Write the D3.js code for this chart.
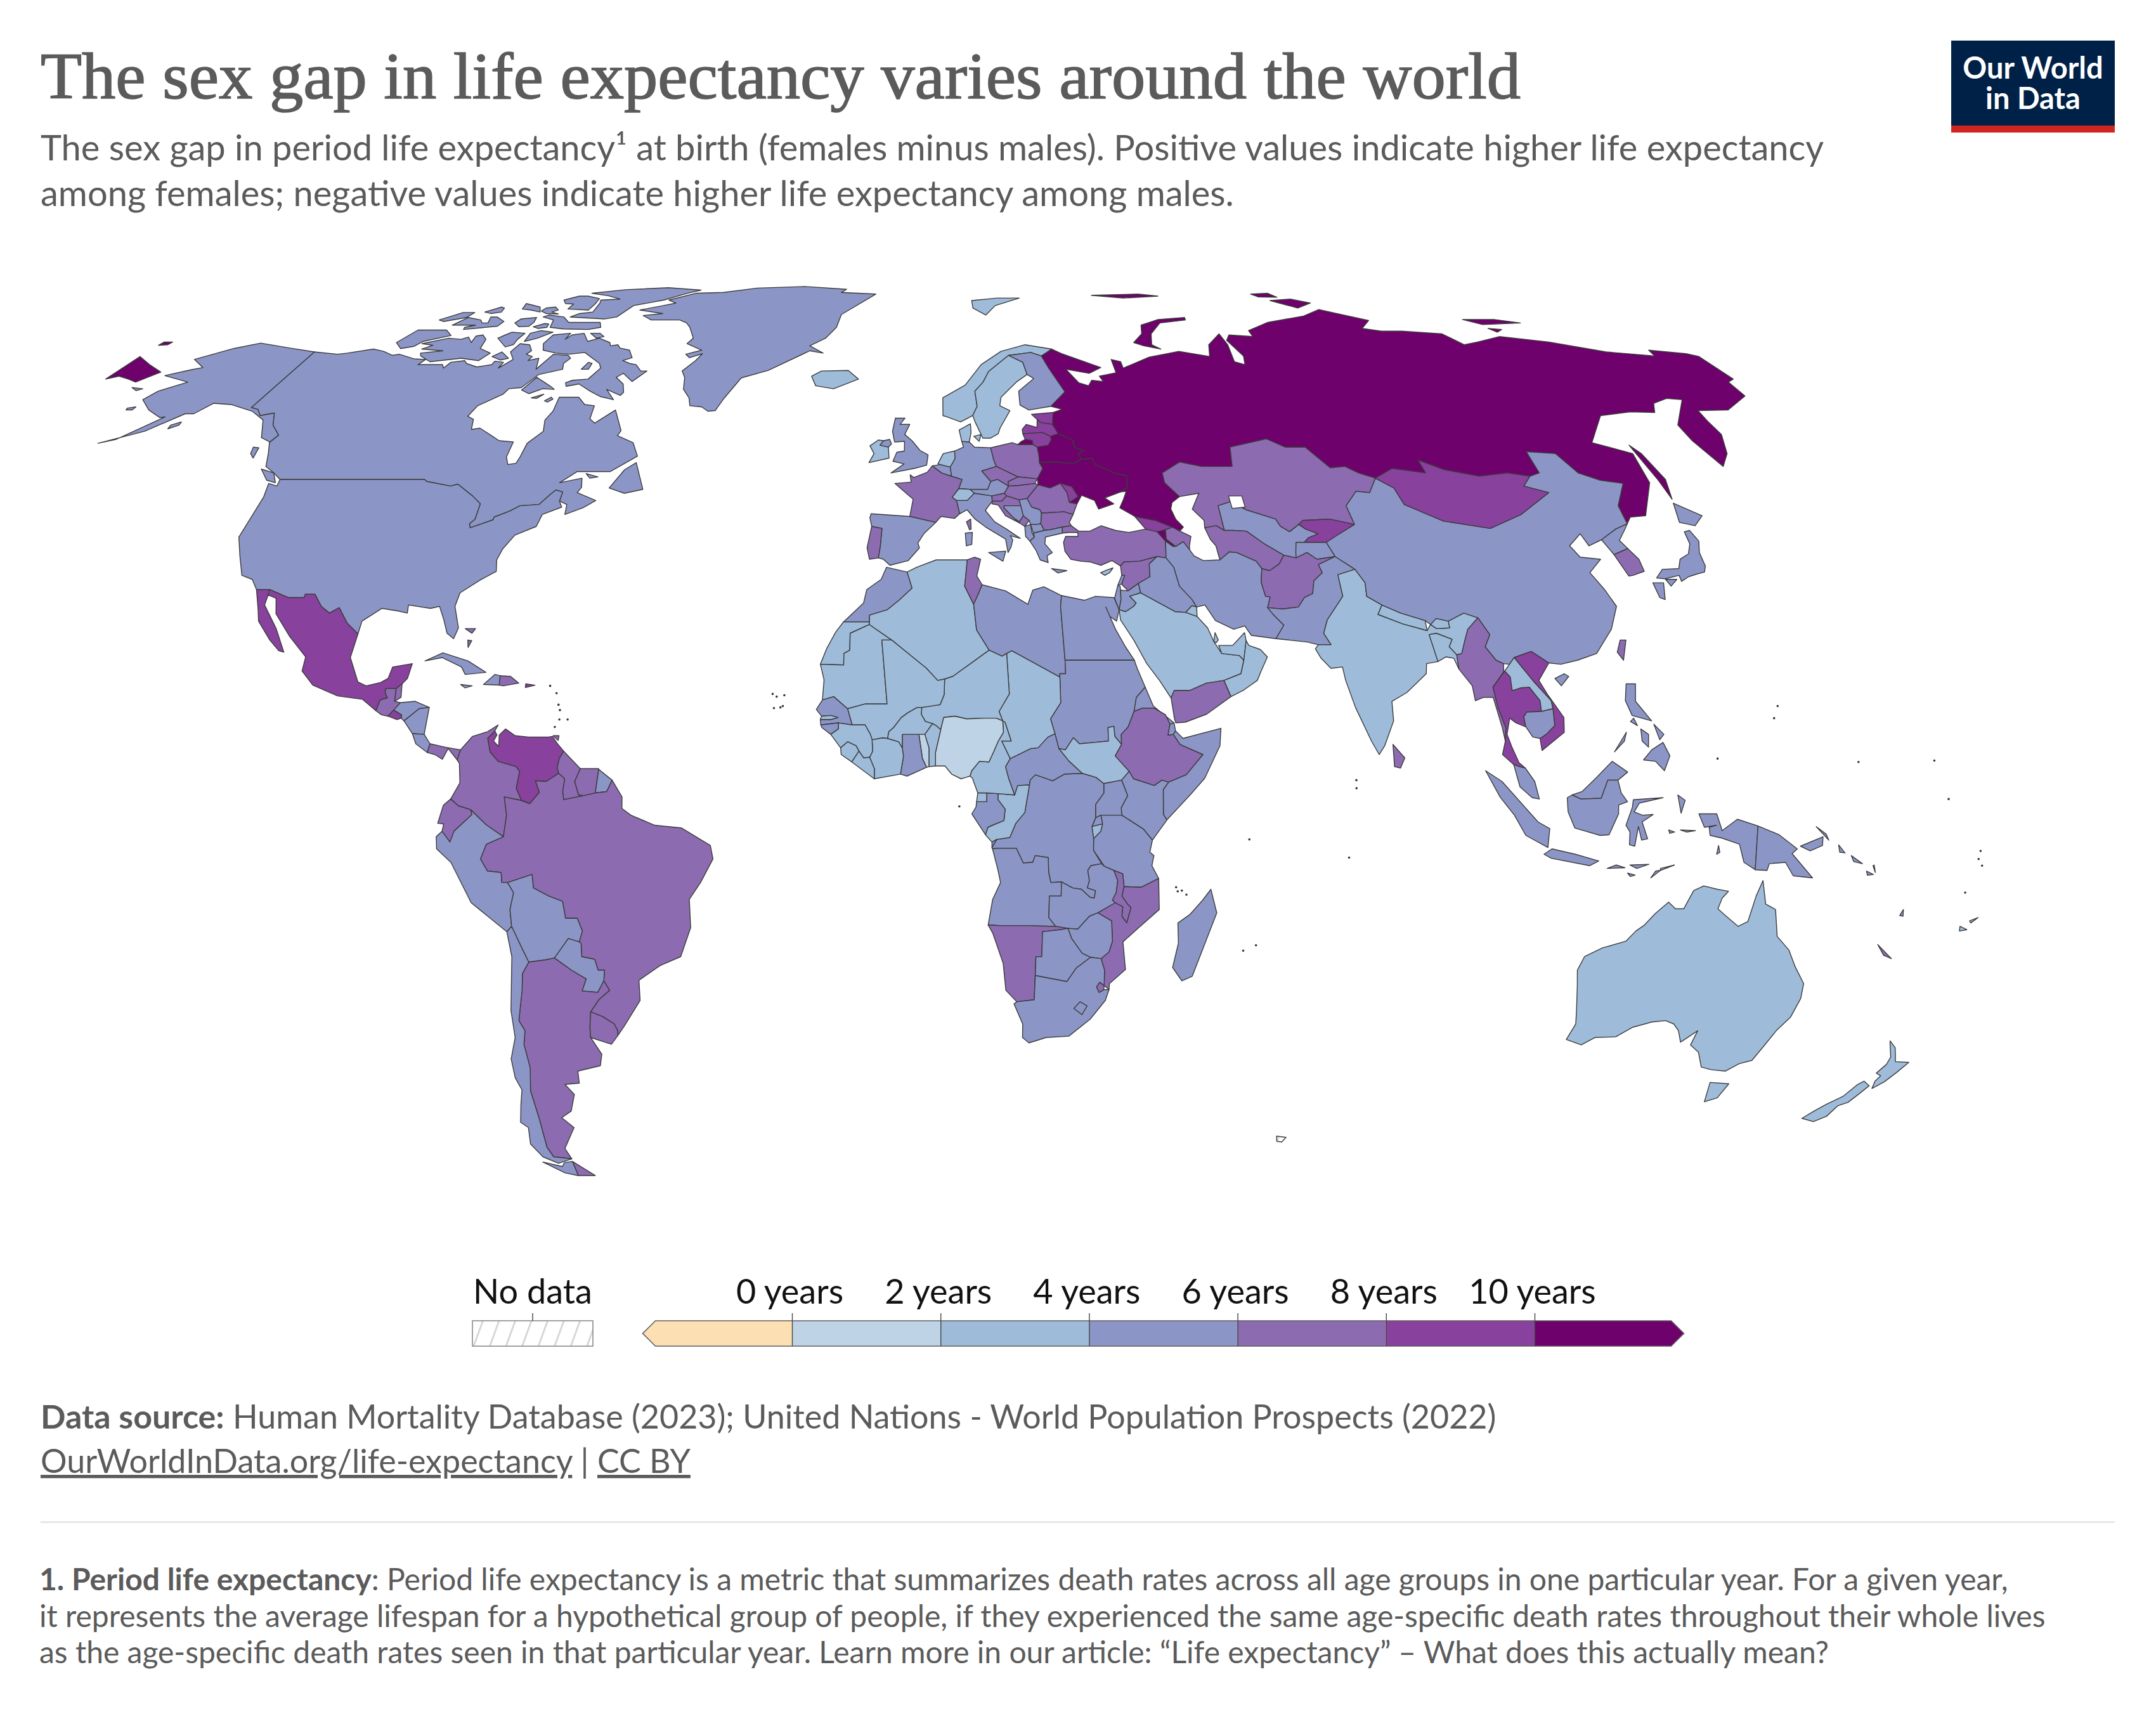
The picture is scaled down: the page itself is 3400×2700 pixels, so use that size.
<!DOCTYPE html>
<html>
<head>
<meta charset="utf-8">
<script src="https://cdn.jsdelivr.net/npm/d3@7"></script>
<style>
  html, body { margin: 0; background: #fff; }
  text { font-family: Lato, sans-serif; }
</style>
</head>
<body>
<div id="chart"></div>
<script>
// Sex gap in years, females minus males
const countries = ['Russia','Belarus','Ukraine','Armenia','Mexico','Venezuela','Lithuania','Latvia','Estonia','Mongolia','Kyrgyzstan','Thailand','Vietnam','El Salvador','Georgia','Puerto Rico','Moldova',
  'Kazakhstan','France','Portugal','Poland','Czechia','Slovakia','Hungary','Romania','Bulgaria','Croatia','Slovenia','Montenegro','Turkey','Azerbaijan','Syria','Turkmenistan','Afghanistan','Yemen','Tunisia','Ethiopia','Malawi','Mozambique','Namibia','Eswatini','Myanmar','South Korea','Taiwan','Sri Lanka','New Caledonia','Guatemala','Belize','Panama','Dominican Republic','Bahamas','Trinidad','Colombia','Ecuador','Argentina','Uruguay','Brazil','Guyana','Suriname',
  'Canada','United States','Greenland','Finland','United Kingdom','Belgium','Germany','Austria','Italy','Spain','Bosnia','Serbia','Albania','North Macedonia','Greece','Uzbekistan','Tajikistan','Pakistan','Iran','Iraq','Jordan','Lebanon','Israel','Egypt','Libya','Morocco','Ghana','Central African Republic','Sudan','Eritrea','Somalia','Djibouti','Kenya','Uganda','Tanzania','Rwanda','DR Congo','Gabon','Angola','Zambia','Zimbabwe','Botswana','South Africa','Lesotho','Madagascar','Senegal','Guinea-Bissau','China','Cambodia','Malaysia','Indonesia','Philippines','Japan','North Korea','Papua New Guinea','Solomon Islands','Vanuatu','Honduras','Nicaragua','Costa Rica','Cuba','Haiti','Jamaica','French Guiana','Peru','Bolivia','Chile','Paraguay',
  'Iceland','Norway','Sweden','Denmark','Ireland','Netherlands','Switzerland','Cyprus','Saudi Arabia','Oman','UAE','Qatar','Kuwait','Algeria','Western Sahara','Mauritania','Mali','Niger','Chad','Burkina Faso','Guinea','Sierra Leone','Liberia','Ivory Coast','Benin','Cameroon','South Sudan','Burundi','Congo','Equatorial Guinea','Gambia','India','Nepal','Bhutan','Bangladesh','Laos','Timor-Leste','Australia','New Zealand','Fiji',
  'Nigeria','Togo','Kerguelen'];
const gapYears = [10.7,10.2,10.4,10.1,8.4,8.9,9.2,9.5,8.6,9.1,8.3,8.2,9.2,9.4,8.8,8.1,8.2,
  7.8,6.1,6.2,7.9,6.2,7.0,7.1,7.2,6.9,6.3,6.0,6.2,6.1,6.4,7.5,7.1,6.3,6.4,6.2,6.5,6.7,6.8,7.6,6.4,7.0,6.1,6.4,7.6,6.3,6.9,6.1,6.2,6.6,7.5,7.1,7.2,6.2,6.5,6.9,6.9,6.4,6.1,
  4.5,5.8,4.6,5.3,4.1,4.3,5.1,4.9,4.4,5.4,5.1,5.5,4.6,4.4,5.2,4.6,4.8,4.4,4.5,5.5,4.6,5.0,4.0,5.1,5.9,4.9,4.4,4.8,5.3,5.6,5.1,5.4,4.7,4.9,4.6,4.9,5.2,5.2,5.3,5.7,4.8,5.0,5.9,5.5,4.2,4.3,5.3,5.2,5.2,5.0,4.5,5.4,5.8,5.5,4.9,4.2,4.3,5.1,4.8,4.3,4.8,5.0,4.9,5.7,5.3,4.5,4.2,4.9,
  3.4,3.3,3.4,3.6,3.5,3.1,3.8,3.7,3.3,3.9,2.2,3.0,3.6,3.2,2.9,2.8,2.6,3.3,3.1,3.4,3.4,3.7,3.6,3.3,3.0,3.8,3.9,2.9,3.1,2.7,3.1,3.5,3.5,3.3,3.9,3.5,3.8,3.6,3.5,3.2,
  1.5,1.9,null];

// Outer two edges only set how far the open-ended bins reach
const legendBins = [-1.84,0,2,4,6,8,10,11.84];
const legendTicks = [0,2,4,6,8,10];
const legendColors = ['#fddfb4','#bfd3e6','#9ebcda','#8c96c6','#8c6bb1','#88419d','#6e016b'];

// Robinson table, latitude steps and the two lookup columns
const latSteps = d3.range(0,95,5);
const lengthCol = [1,.9986,.9954,.99,.9822,.973,.96,.9427,.9216,.8962,.8679,.835,.7986,.7597,.7186,.6732,.6213,.5722,.5322];
const depthCol = [0,.062,.124,.186,.248,.31,.372,.434,.4958,.5571,.6176,.6769,.7346,.7903,.8435,.8936,.9394,.9761,1];

// Outlines: name, then one 'lon,lat lon,lat ...' string per ring
const outlines = [
['Canada',
 '-141,69.7 -135,69.3 -133,69.5 -128,70.2 -125,69.8 -122,69.1 -120.7,69.3 -116.2,68.5 -113.4,68.4 -114,67.5 -108.4,67.5 -107.5,66.9 -107,67.9 -104.2,68.2 -103.2,67.7 -100.2,67.1 -97.2,67.5 -97.2,68.1 -95,67.9 -95.1,66.9 -93.3,68.4 -95.3,69.7 -94.8,71.2 -92.3,71 -90.6,69.9 -91.2,69.3 -89.4,68.9 -89.7,68.2 -87.6,68.6 -86.4,66.7 -84.9,69.3 -81.3,69.1 -80.3,68.6 -81.1,67.7 -80.4,66.7 -84.9,65.8 -86.8,63.6 -89.4,63.4 -89.8,62.5 -93.5,60.6 -94.1,58.9 -92.5,58.4 -91.6,56.8 -90,57 -86.7,55.8 -84.6,55 -81.6,54.8 -81.5,52.5 -80.5,51.3 -79,51.5 -78.8,52.5 -78.7,54.6 -76.7,56.5 -77.6,58.3 -76.9,59.7 -77.3,62 -73.1,62 -71,60.8 -68.8,60.6 -68.4,58.5 -67,57.8 -63.9,59.9 -60.9,56.6 -61.2,55.8 -57.5,54.7 -55.7,52.6 -60,50.2 -66.4,50.2 -69,48.5 -65,49.2 -64.5,47.8 -65,47 -61,45.8 -63,44.7 -66,43.7 -66.2,45.2 -67.8,45.7 -67.8,47.1 -69.2,47.4 -70,46.7 -71.4,45.2 -74.9,45 -76.5,44.2 -79,43.3 -79,42.9 -82.7,41.7 -83.1,42.3 -82.4,43 -82.5,45.3 -84.6,46.5 -88.4,48.3 -89.6,48 -94.6,48.7 -95.2,49 -123,49 -125,50 -127.5,51 -129,53 -130.5,54.7 -130,55.9 -133,57.5 -135,59.4 -137.5,59 -139.2,60 -141,60.3',
 '-89.3,71.2 -88.8,72.8 -84.9,73.1 -85,72 -84.2,72.8 -81.6,73.1 -79.2,71.6 -77,72.2 -73.7,71.4 -73,70.8 -71.4,71 -70.4,70.4 -67.8,70 -66.2,68.7 -68,68.2 -66,67.7 -64.4,67.5 -62.6,66.4 -61.2,66.4 -63.3,64.6 -66.2,66 -67.3,65.3 -65,64.2 -64,62.8 -64.4,62.3 -68,63.3 -65.4,61.6 -68.5,62.1 -71.4,63 -74.7,64.2 -77.2,63.8 -77.8,64.4 -76.6,64.8 -73.3,65 -72,66.9 -72.9,67.7 -77.9,69.6 -81.2,69.3 -84.5,69.5 -88,70',
 '-118.1,71.2 -113.2,72.2 -110,72 -108.7,72.4 -106.7,71.4 -107.2,72.6 -105.8,72.8 -104,72 -103.1,70.3 -99.8,69.5 -101,68.2 -105.5,68.6 -111.9,68 -115.3,69 -116,69.5 -111.3,69.9 -116.7,70.2 -115.1,70.9',
 '-124.5,71.4 -123,73.7 -116,73.7 -113.4,72.7 -118.5,71.6 -119.3,70.7 -121.8,70.3',
 '-90.3,81.2 -82.2,82.1 -70.8,82.6 -61,82 -64,81.2 -68.7,79.6 -75.4,78.5 -77,76.2 -79.6,75.8 -88.8,76.2 -87.4,76.9 -84.4,77.2 -85,79 -85.6,79.6 -80.7,79.8 -85,80.6',
 '-95.5,79.6 -92.7,80.5 -90.3,80.5 -86.4,79.9 -86,78.8 -86.1,77.6 -91.7,77.8 -91.7,78.8 -94,78.9',
 '-95.7,76.2 -94.8,76.6 -90.4,76.2 -87.7,75.1 -79.8,75.1 -78.7,74.2 -81.4,73.8 -87.6,73.9 -91.2,74.2 -92.2,75.6',
 '-97.7,78 -95.5,78.2 -93.9,77.6 -95,77.2 -92.7,76.8 -96,76.9 -98,77.4',
 '-104.4,78.9 -99.6,78.2 -98,77.2 -101,77.6 -103.6,77.8',
 '-112.3,77.2 -109.7,78.2 -108.6,78 -108,77.2 -110.2,76.9',
 '-121,75.6 -117.7,77.1 -114.7,77.1 -115,76.1 -119.3,75.3',
 '-116,74.6 -114.5,76.1 -110.5,75.6 -109.2,75 -107.7,75 -109,76.2 -107.4,76.2 -104.2,75.3 -104.5,74.4 -112,73.8 -112.3,74.2 -110.2,74.6',
 '-101,75 -100.7,75.8 -97.2,76.1 -96.4,75.1 -96.7,74.4 -99,74.3',
 '-95.5,74.3 -93.4,74.9 -92.3,74.8 -92,74.2 -94,74',
 '-101.4,72.2 -100.4,72.8 -99.4,73.3 -96,73.1 -96.4,72 -96.2,71 -97.6,70.6',
 '-94.7,73.1 -92.7,73.6 -89.4,73.3 -91.9,72.2 -94.3,71.6',
 '-98.7,68.9 -97.3,69.7 -94.6,68.6 -96.1,68.3',
 '-80,73.1 -77.7,73.1 -76.2,72.5 -77.7,72.2',
 '-86.4,63.2 -84.9,65.3 -82.3,64.4 -80.6,63.8 -79.4,63.3 -82,63.4 -84.3,62.6',
 '-83.2,61.9 -81,62.5 -82,61.8',
 '-80,61.4 -79,62 -78.4,61.7 -79.2,61.2',
 '-76.2,66.7 -75.6,67.9 -74.6,67.7 -74.6,66.7',
 '-55.5,51.6 -52.7,47.5 -56,46.9 -59.2,47.7 -57.3,50.5',
 '-128,50.6 -125,50 -123.5,48.5 -125.5,48.9',
 '-133,54 -131.8,53.9 -131.3,52.3 -132.5,53',
 '-64.5,49.9 -62,49.4 -63.5,49.2'],
['United States',
 '-123,49 -95.2,49 -94.6,48.7 -89.6,48 -88.4,48.3 -84.6,46.5 -82.5,45.3 -82.4,43 -83.1,42.3 -82.7,41.7 -79,42.9 -79,43.3 -76.5,44.2 -74.9,45 -71.4,45.2 -70,46.7 -69.2,47.4 -67.8,47.1 -67.8,45.7 -67,44.8 -70.2,43.7 -70.6,41.9 -74,40.6 -75.5,38.5 -76,36.9 -75.5,35.2 -78,33.9 -81,32 -81.3,30 -80,26.8 -80.5,25.2 -81.8,26 -82.8,28 -84,30 -85.5,29.7 -89.5,30.2 -89.4,29 -91,29.3 -94,29.7 -97,27.8 -97.2,25.9 -99.5,27.5 -101.5,29.8 -103,29 -104.7,30 -106.5,31.8 -108.2,31.8 -108.2,31.3 -111,31.3 -114.8,32.5 -117.1,32.5 -118.5,34 -120.6,34.6 -122.5,37.5 -124.3,40.3 -124,46.3 -124.7,48.4 -122.8,48',
 '-141,69.7 -148,70.4 -156.6,71.3 -161,70.3 -166.5,68.4 -162,67 -164,66.6 -168,65.6 -161,64.5 -165,63 -166,61.6 -162,59.9 -158,58.7 -157,58.8 -162,55.2 -164.8,54.6 -158,56.5 -153.5,59.3 -151.7,59.3 -150,61 -146,60.8 -140,59.7 -136,58.3 -133,55.5 -130.5,54.8 -130,55.9 -133,57.5 -135,59.4 -137.5,59 -139.2,60 -141,60.3',
 '-154,57.5 -152.5,58 -152.3,57.5 -153.8,56.9',
 '-167,60.2 -165.5,60.4 -165.5,59.9 -166.8,59.9',
 '-171.7,63.6 -169,63.4 -170,63.1'],
['Greenland','-72.7,77.6 -67.5,78.5 -64.8,79 -67.3,79.6 -61.7,81.2 -54.3,81.4 -45.7,82.5 -32.5,82.9 -20.4,82.2 -21.6,81.4 -12,81 -20,76.7 -20.5,74.2 -22.6,72.2 -25.9,70.8 -22.4,69.5 -25.6,69.9 -34,66.5 -39.5,65.2 -42,61.6 -42.9,59.8 -44.4,59.7 -46,60.4 -48.6,60.6 -49.4,61.9 -51.3,63.3 -52.1,65.3 -53.3,66.4 -51.3,68.2 -50.4,69.4 -53,68.7 -54.2,69.3 -50.9,70 -55.2,71.2 -54.4,72.2 -56.7,74.2 -58.1,75 -60.4,75.6 -67.6,75.6 -70.6,76.5 -66,76.9'],
['Mexico',
 '-114.8,32.5 -111,31.3 -108.2,31.3 -108.2,31.8 -106.5,31.8 -104.7,30 -103,29 -101.5,29.8 -99.5,27.5 -97.2,25.9 -97.8,22.4 -95.9,18.8 -94.4,18.2 -92,18.7 -90.8,19.3 -90.3,21 -87,21.5 -87.5,19.3 -88.3,18.5 -89.2,17.8 -91,17.8 -91,17.2 -90.5,16.4 -91.7,16.1 -92.2,14.5 -94.7,16.2 -99,16.7 -103.5,18.3 -105.7,20.4 -105.5,22.5 -109,25.6 -112.3,28.9 -113.1,31.2 -114.7,31.7',
 '-117.1,32.5 -114.8,32.5 -114.7,31.7 -114.7,30.2 -111.6,26.7 -109.4,23.2 -110.3,23.4 -112.2,25 -115,27.8 -115.6,29.5'],
['Guatemala','-92.2,14.5 -91.7,16.1 -90.5,16.4 -91,17.2 -91,17.8 -89.2,17.8 -89.2,15.9 -88.2,15.7 -89.2,14.6 -90.1,13.7 -91.2,13.9'],
['Belize','-89.2,17.8 -88.3,18.5 -88.2,16.5 -89.2,15.9'],
['Honduras','-89.2,14.6 -88.2,15.7 -85.7,15.9 -83.2,15 -84.9,14.8 -87.3,13 -87.8,13.4 -87.8,13.9'],
['El Salvador','-90.1,13.7 -89.2,14.6 -87.8,13.9 -87.8,13.4 -88.5,13.2'],
['Nicaragua','-87.3,13 -84.9,14.8 -83.2,15 -83.7,11 -85.7,11.1'],
['Costa Rica','-85.7,11.1 -83.7,11 -82.6,9.6 -83,8.3 -85,9.6'],
['Panama','-83,8.3 -82.6,9.6 -80,9.1 -77.4,8.7 -77.9,7.2 -79.5,8.9 -80.4,7.3 -81.7,8'],
['Cuba','-84.9,21.9 -82,23.1 -77.5,21.9 -74.2,20.2 -77.7,19.9 -78.5,21 -82,22.4'],
['Haiti','-74.4,18.4 -72.6,19.9 -71.7,19.7 -71.7,18.3'],
['Dominican Republic','-71.7,19.7 -69.9,19.6 -68.4,18.6 -71,18.2 -71.7,18.3'],
['Jamaica','-78.3,18.4 -76.3,18.2 -77.5,17.9'],
['Puerto Rico','-67.2,18.5 -65.6,18.3 -67.2,17.95'],
['Bahamas','-78.8,26.7 -77,26.7 -77.5,26','-78,25 -77.3,24.9 -77.8,23.9'],
['Trinidad','-61.9,10.8 -60.9,10.8 -61,10.1'],
['Colombia','-77.4,8.7 -75.5,10.7 -73,11.4 -71.3,12.4 -71.8,11.5 -72.9,10.4 -72.4,8.4 -71,7 -67.9,6.2 -67.3,5.5 -67.8,3 -66.9,1.2 -67,1.2 -69.8,1.7 -69.4,-1 -70,-4.2 -72.9,-2.4 -75.4,-0.2 -77.5,0.4 -78.8,1.4 -77.3,3.8 -77.5,6.7 -77.9,7.2'],
['Venezuela','-71.8,11.5 -71.4,10.9 -71.9,10 -71,9.2 -71,10.9 -70,11.8 -68.3,10.8 -66,10.6 -62.7,10.6 -62,10.7 -61,9.5 -60,8.5 -60.7,7.4 -61,6 -60.7,5.2 -62.8,4 -64.6,4.1 -63.9,2.4 -65.5,0.7 -66.9,1.2 -67.8,3 -67.3,5.5 -67.9,6.2 -71,7 -72.4,8.4 -72.9,10.4'],
['Guyana','-60,8.5 -57.1,5.9 -58,4 -57.3,2 -56.5,1.9 -59.8,1.3 -60,2.5 -59.7,4.4 -60.7,5.2 -61,6 -60.7,7.4'],
['Suriname','-57.1,5.9 -54,5.9 -54.5,2.3 -56.5,1.9 -57.3,2 -58,4'],
['French Guiana','-54,5.8 -51.7,4.2 -52.6,2.5 -54.5,2.3'],
['Brazil','-51.7,4.2 -50,1.7 -50,0 -48.5,-1 -44.5,-2.5 -40,-2.9 -35.2,-5.5 -34.8,-7.5 -37,-11 -39,-13.5 -39,-17.7 -41,-22 -44.6,-23.3 -48.5,-25.5 -48.7,-28.5 -52,-32.2 -53.5,-33.7 -53.4,-33 -53.8,-32 -55.6,-30.9 -57.6,-30.2 -55.9,-28.4 -53.8,-27 -54.6,-25.6 -54.3,-24 -55.4,-24 -55.8,-22.4 -58,-22 -57.9,-20 -58.2,-19.8 -57.5,-18.2 -58.2,-16.3 -60.2,-16.3 -60.5,-13.8 -62.8,-13 -65.3,-11.8 -65.4,-9.8 -69.6,-11 -70.6,-11 -70.6,-9.5 -72.9,-9.3 -74,-7.5 -72.9,-5.3 -70,-4.2 -69.4,-1 -69.8,1.7 -67,1.2 -65.5,0.7 -63.9,2.4 -64.6,4.1 -62.8,4 -60.7,5.2 -59.7,4.4 -60,2.5 -59.8,1.3 -56.5,1.9 -54.5,2.3 -52.6,2.5'],
['Ecuador','-78.8,1.4 -77.5,0.4 -75.4,-0.2 -75.2,-0.9 -78.3,-3.4 -79,-5 -80.3,-3.4 -80,-2.3 -81,-2.2 -80,0.5'],
['Peru','-80.3,-3.4 -79,-5 -78.3,-3.4 -75.2,-0.9 -75.4,-0.2 -72.9,-2.4 -70,-4.2 -72.9,-5.3 -74,-7.5 -72.9,-9.3 -70.6,-9.5 -70.6,-11 -69.6,-11 -68.7,-12.5 -69.5,-15 -69.5,-17.5 -70.4,-18.3 -76,-14 -79,-8 -81.3,-6 -81.3,-4.2'],
['Bolivia','-69.6,-11 -65.4,-9.8 -65.3,-11.8 -62.8,-13 -60.5,-13.8 -60.2,-16.3 -58.2,-16.3 -57.5,-18.2 -58.2,-19.8 -60,-19.3 -62.7,-22.2 -64.4,-22.5 -67.2,-22.8 -68,-21 -69.5,-17.5 -69.5,-15 -68.7,-12.5'],
['Paraguay','-58.2,-19.8 -57.9,-20 -58,-22 -55.8,-22.4 -55.4,-24 -54.3,-24 -54.6,-25.6 -55.9,-27.3 -58.6,-27.1 -57.6,-25.3 -60,-24 -62.7,-22.2 -60,-19.3'],
['Argentina','-67.2,-22.8 -64.4,-22.5 -62.7,-22.2 -60,-24 -57.6,-25.3 -58.6,-27.1 -55.9,-27.3 -54.6,-25.6 -53.8,-27 -55.9,-28.4 -57.6,-30.2 -58.2,-32.5 -58.4,-34 -57,-36.5 -57.7,-38.2 -62,-39 -62.3,-40.8 -65,-41 -63.8,-42.5 -65.3,-45 -67.5,-46 -65.8,-47.5 -69,-50.7 -68.5,-52.3 -71.9,-52 -72.4,-50.5 -71.8,-46 -71.7,-42 -70.5,-38.5 -70.5,-35 -69.8,-33 -70.5,-31.5 -69,-27 -68.5,-24.5',
 '-68.6,-52.7 -65.2,-54.9 -68.6,-54.9'],
['Chile','-69.5,-17.5 -70.4,-18.3 -70,-22 -71.5,-30 -71.8,-34 -73.5,-37.2 -73.7,-40 -73.2,-41.8 -74.3,-44 -75.6,-46.7 -74.5,-47.5 -75.3,-50 -74,-52 -71.5,-53 -68.5,-52.3 -71.9,-52 -72.4,-50.5 -71.8,-46 -71.7,-42 -70.5,-38.5 -70.5,-35 -69.8,-33 -70.5,-31.5 -69,-27 -68.5,-24.5 -67.2,-22.8 -68,-21',
 '-68.6,-52.7 -68.6,-54.9 -71,-54.5 -74.5,-52.8 -71,-53.5 -70.3,-52.9'],
['Uruguay','-57.6,-30.2 -55.6,-30.9 -53.8,-32 -53.4,-33 -53.5,-33.7 -54.9,-35 -58.4,-34 -58.2,-32.5'],
['Morocco','-5.9,35.8 -2.2,35.1 -1.3,32.7 -3.6,30.9 -5.6,29.5 -8.7,28.7 -8.7,27.7 -13.2,27.7 -9.8,30.5 -9.3,32.5 -6.8,34'],
['Western Sahara','-13.2,27.7 -8.7,27.7 -8.7,27.3 -12,26 -12,23.5 -13,23 -13,21.3 -17,21.4 -16,23.7 -14.5,26.2'],
['Mauritania','-17,21.4 -13,21.3 -13,23 -12,23.5 -12,26 -8.7,27.3 -4.8,25 -6.5,25 -5.5,15.5 -9.3,15.5 -12.2,14.8 -14.6,16.6 -16.5,16.1 -16.3,19.1'],
['Algeria','-2.2,35.1 -1.3,32.7 -3.6,30.9 -5.6,29.5 -8.7,28.7 -8.7,27.3 -4.8,25 1.2,20.8 3.1,19 4.3,19.2 5.7,19.6 12,23.5 9.9,26.5 9.5,30.3 8,33 8.6,36.9 3,36.9 -0.5,35.8'],
['Tunisia','8.6,36.9 9.9,37.3 11,37 10.2,34.5 11.1,33.2 10.3,31.7 9.5,30.3 8,33'],
['Libya','9.5,30.3 10.3,31.7 11.1,33.2 15.2,32.3 19,30.3 20,32.4 22,32.9 25,31.6 24.7,30 25,22 25,20 24,20 24,19.5 15.9,23.4 15,23 14.2,22.6 12,23.5 9.9,26.5'],
['Egypt','25,31.6 29,30.9 31,31.5 34.2,31.3 34.9,29.5 34.3,27.8 33.2,28.5 32.6,29.9 34,26.6 35.5,24 36.9,22 25,22 24.7,30'],
['Sudan','25,22 36.9,22 37.3,20.8 38.5,18 36.9,16.5 36.4,14.4 35.3,12.1 34.1,11 34.1,9.5 33,10.7 32.9,12.2 31.9,12 31.9,10 29.5,9.8 27,9.6 26,10.5 24.6,8.7 23.5,8.9 22.9,11.1 22.2,13.3 24,15.7 24,19.5 24,20 25,20'],
['South Sudan','24.6,8.7 26,10.5 27,9.6 29.5,9.8 31.9,10 31.9,12 32.9,12.2 33,10.7 34.1,9.5 33,7.8 35.3,5.5 34,4.2 31,3.7 29.7,4.6 27.4,5.2 25.2,7 23.5,8.9'],
['Eritrea','36.4,14.4 36.9,16.5 38.5,18 39.7,15.2 43.1,12.7 42.4,12.5 41.7,13.9 39.8,14.9 37.9,14.9'],
['Ethiopia','36.4,14.4 37.9,14.9 39.8,14.9 41.7,13.9 42.4,12.5 42,10.9 42.9,11 44,9.5 47.8,8 44.9,5 41.9,3.9 40.8,4.2 39.5,3.4 36,4.4 35.3,5.5 33,7.8 34.1,9.5 34.1,11 35.3,12.1'],
['Djibouti','42.4,12.5 43.1,12.7 43.3,11.5 42.9,11 42,10.9'],
['Somalia','42.9,11 43.3,11.5 44.5,10.4 51,11.9 50.7,9.3 48,4.5 45.6,2.1 41.6,-1.7 41,-0.9 41,2.8 41.9,3.9 44.9,5 47.8,8 44,9.5'],
['Kenya','35.3,5.5 36,4.4 39.5,3.4 40.8,4.2 41.9,3.9 41,2.8 41,-0.9 41.6,-1.7 39.2,-4.7 37.7,-3.1 34,-1 33.9,0.1 34.5,1.1 35,1.9 34,4.2'],
['Uganda','34,4.2 35,1.9 34.5,1.1 33.9,0.1 34,-1 30.5,-1 29.6,-1.4 29.6,0.6 31,2.3 31,3.7'],
['Rwanda','30.5,-1 30.8,-2.3 29,-2.7 29.6,-1.4'],
['Burundi','30.8,-2.3 30.5,-3.4 29.3,-4.5 29,-2.7'],
['Tanzania','34,-1 37.7,-3.1 39.2,-4.7 38.8,-6.5 39.5,-7 39.2,-8.5 40.4,-10.4 37.5,-11.7 34.6,-11.6 34.3,-9.7 32.8,-9.2 31.2,-8.6 29.3,-6.2 29.3,-4.5 30.5,-3.4 30.8,-2.3 30.5,-1'],
['DR Congo','31,3.7 31,2.3 29.6,0.6 29.6,-1.4 29,-2.7 29.3,-4.5 29.3,-6.2 30.7,-8.2 28.9,-8.5 28.4,-9.2 28.7,-10.7 28.4,-11.8 29.8,-12.2 29.6,-13.3 28.9,-13.2 27.4,-12 25.9,-11.8 24,-10.9 22.2,-11 21.8,-9.5 21.7,-7.3 19.5,-7 19.1,-8 17.5,-8.1 16.3,-5.9 13,-5.9 12.3,-6 12.2,-5.8 13,-4.6 15.2,-4.3 16.2,-2.2 17.7,-0.6 18.5,3.5 18.6,4.2 19.5,5 22.4,4.1 24.4,5.1 27.4,5.2 29.7,4.6'],
['Congo','11.1,-3.9 12.2,-5 13,-4.6 15.2,-4.3 16.2,-2.2 17.7,-0.6 18.5,3.5 16.5,3.4 16,2 13.2,2.2 13.2,1.3 14.4,-0.1 14.2,-1.8 12.5,-2.4 11.5,-2.8'],
['Gabon','9.6,1 11.3,1 11.3,2.3 13.2,2.2 13.2,1.3 14.4,-0.1 14.2,-1.8 12.5,-2.4 11.5,-2.8 11.1,-3.9 8.8,-0.8 9.5,0.2'],
['Equatorial Guinea','9.8,2.3 11.3,2.3 11.3,1 9.6,1'],
['Cameroon','8.5,4.8 8.9,4.5 9.8,2.3 11.3,2.3 13.2,2.2 16,2 15,4.5 14.5,6.2 15.3,7.4 13.9,10 15.5,10 14.5,12.8 14.1,13 14.2,11.3 13.3,10 12.5,8.4 11.7,6.9 10.1,7 8.8,5.6'],
['Central African Republic','14.5,6.2 15,4.5 16,2 16.5,3.4 18.5,3.5 18.6,4.2 19.5,5 22.4,4.1 24.4,5.1 27.4,5.2 25.2,7 23.5,8.9 22.9,11.1 21.7,10.6 20,9 18.8,8.9 15.3,7.4'],
['Chad','15.9,23.4 24,19.5 24,15.7 22.2,13.3 22.9,11.1 21.7,10.6 20,9 18.8,8.9 15.3,7.4 13.9,10 15.5,10 14.5,12.8 14.1,13 13.5,14.4 15.3,17 15,23'],
['Niger','5.7,19.6 12,23.5 14.2,22.6 15,23 15.3,17 13.5,14.4 14.1,13 13,13.4 11,13.4 8,13.3 6,13.7 4.1,13.5 3.6,11.7 2.8,12.3 2.2,12.6 1,12.9 0.3,14 0.4,15 3.5,15.4 4.2,16.9 4.3,19.2'],
['Nigeria','2.7,6.3 2.7,8.3 3.6,11.7 4.1,13.5 6,13.7 8,13.3 11,13.4 13,13.4 14.1,13 14.2,11.3 13.3,10 12.5,8.4 11.7,6.9 10.1,7 8.8,5.6 8.5,4.8 7,4.4 5.4,5.1 4.3,6.3'],
['Benin','1.6,6.2 1.6,9 0.9,11 2.2,12.6 2.8,12.3 3.6,11.7 2.7,8.3 2.7,6.3'],
['Togo','0.9,11 1.6,9 1.6,6.2 1.2,6.1 0.5,7.4 -0.1,11'],
['Ghana','-3.2,5.1 -2.1,4.8 1.2,6.1 0.5,7.4 -0.1,11 -2.9,11 -2.9,9 -2.7,7.7'],
['Ivory Coast','-7.6,4.4 -3.2,5.1 -2.7,7.7 -2.9,9 -3.5,9.9 -5.4,10.4 -6.2,10.5 -8,10.2 -7.9,8.5 -8.4,7.6 -7.6,5.9'],
['Burkina Faso','-5.4,10.4 -3.5,9.9 -2.9,9 -2.9,11 -0.1,11 0.9,11 2.2,12.6 1,12.9 0.3,14 0.4,15 -0.4,15 -2,14.2 -3.1,13.5 -4.4,12 -5.2,11.4'],
['Mali','-12.2,14.8 -9.3,15.5 -5.5,15.5 -6.5,25 -4.8,25 1.2,20.8 3.1,19 4.3,19.2 4.2,16.9 3.5,15.4 0.4,15 -0.4,15 -2,14.2 -3.1,13.5 -4.4,12 -5.2,11.4 -5.4,10.4 -6.2,10.5 -8,10.2 -8.3,11 -9.2,12.4 -11.4,12.4'],
['Senegal','-16.5,16.1 -14.6,16.6 -12.2,14.8 -11.4,12.4 -13.7,12.7 -16.7,12.4 -16.8,13.2 -15,13.2 -13.8,13.5 -15,13.8 -16.6,13.7 -17.5,14.7'],
['Gambia','-16.8,13.2 -15,13.2 -13.8,13.5 -15,13.8 -16.6,13.7'],
['Guinea-Bissau','-16.7,12.4 -13.7,12.7 -13.7,11.8 -15,11 -16.5,12'],
['Guinea','-13.7,12.7 -11.4,12.4 -9.2,12.4 -8.3,11 -8,10.2 -7.9,8.5 -8.4,7.6 -9.4,7.5 -10.2,8.5 -10.7,9.3 -12.1,9.9 -13.3,9 -15,11 -13.7,11.8'],
['Sierra Leone','-13.3,9 -12.1,9.9 -10.7,9.3 -10.2,8.5 -11.4,6.9 -13.2,8'],
['Liberia','-11.4,6.9 -10.2,8.5 -9.4,7.5 -8.4,7.6 -7.6,5.9 -7.6,4.4'],
['Angola','12.3,-6 13,-5.9 16.3,-5.9 17.5,-8.1 19.1,-8 19.5,-7 21.7,-7.3 21.8,-9.5 22.2,-11 24,-10.9 24,-13 22,-13 22,-16.2 23.2,-17.5 18.5,-17.4 14,-17.4 11.7,-17.3 12.4,-13.5 13.7,-11 13.2,-9','12.2,-5 13,-4.6 12.2,-5.8'],
['Zambia','22,-13 24,-13 24,-10.9 25.9,-11.8 27.4,-12 28.9,-13.2 29.6,-13.3 29.8,-12.2 28.4,-11.8 28.7,-10.7 28.4,-9.2 28.9,-8.5 30.7,-8.2 31.2,-8.6 32.8,-9.2 33.5,-10.7 33.3,-12.5 32.7,-13.6 33.2,-14 30.3,-15.5 28.9,-16 27,-17.9 25.3,-17.8 23.2,-17.5 22,-16.2'],
['Malawi','32.8,-9.2 34.3,-9.7 34.6,-11.6 34.3,-13 35.3,-14.2 35.9,-14.7 35.3,-17 34.4,-16 34.5,-14.6 33.2,-14 32.7,-13.6 33.3,-12.5 33.5,-10.7'],
['Mozambique','34.6,-11.6 37.5,-11.7 40.4,-10.4 40.7,-15 37,-18 34.8,-19.8 35.5,-23.9 32.9,-26 32.9,-26.9 32,-26.3 31.9,-24 31.2,-22.3 32.5,-21.3 33,-19.7 32.7,-16.7 30.3,-15.5 33.2,-14 34.5,-14.6 34.4,-16 35.3,-17 35.9,-14.7 35.3,-14.2 34.3,-13'],
['Zimbabwe','25.3,-17.8 27,-17.9 28.9,-16 30.3,-15.5 32.7,-16.7 33,-19.7 32.5,-21.3 31.2,-22.3 29.4,-22.1 27.9,-21.5 26,-19.3'],
['Namibia','11.7,-17.3 14,-17.4 18.5,-17.4 23.2,-17.5 25.3,-17.8 24,-18 21,-18.3 21,-22 20,-22 20,-28.4 17,-28.7 15,-27 14.4,-23 12.5,-18.5'],
['Botswana','21,-18.3 24,-18 25.3,-17.8 26,-19.3 27.9,-21.5 29.4,-22.1 27,-23.7 25.5,-25.7 23,-25.3 20,-24.8 20,-22 21,-22'],
['South Africa','17,-28.7 20,-28.4 20,-24.8 23,-25.3 25.5,-25.7 27,-23.7 29.4,-22.1 31.2,-22.3 31.9,-24 32,-26.3 31.2,-25.8 30.7,-26.5 31.2,-27.3 32,-26.9 32.9,-26.9 32.4,-28.5 30,-31.3 26.5,-33.8 22.5,-34 19.5,-34.8 18.3,-34 18.2,-32 16.5,-29'],
['Lesotho','28,-28.7 29.3,-29.3 28.5,-30.6 27,-29.7'],
['Eswatini','31.2,-25.8 32,-26.3 32,-26.9 31.2,-27.3 30.7,-26.5'],
['Madagascar','49.3,-12 50.5,-15.5 47.1,-24.9 45.4,-25.6 43.6,-23.6 44.3,-20 44,-17 46,-15.7 48,-13.6'],
['Iceland','-24,65.5 -22,66.4 -16,66.5 -13.5,65 -18.7,63.4 -22.7,63.9'],
['Ireland','-9.9,54.2 -8.3,55.1 -7.2,55 -7.9,54.3 -6.2,54 -6,52.3 -9.9,51.6 -9,53'],
['United Kingdom','-5,58.6 -3,58.6 -4,57.6 -2,57.6 -3,56 -1.5,55 0.1,53.5 1.7,52.8 1.4,51.2 -1,50.7 -5.5,50 -3,51.4 -5.2,51.8 -4.5,53.2 -3,53.4 -3,54.9 -5,54.8 -5.5,56.5','-7.2,55 -6,55.2 -5.6,54.5 -6.2,54 -7.9,54.3'],
['France','-1.8,43.4 3,42.5 4,43.4 6.5,43.1 7.5,43.8 7,45.8 6.2,46.3 7.5,47.6 8.2,49 6.2,49.5 4.3,50 2.5,51.1 1.5,50.1 -1.1,49.3 -1.8,49.7 -1.6,48.6 -4.7,48.4 -1.2,46','8.7,42.6 9.5,43 9.5,41.5 9.2,41.4'],
['Spain','-9,43.8 -1.8,43.4 3,42.5 0.8,40.8 -0.3,39.4 0,38.7 -2,36.8 -5.3,36.1 -6.5,37 -7.4,37.2 -7.1,39 -6.9,41.6 -8.8,41.9 -9.2,43.2'],
['Portugal','-8.8,41.9 -6.9,41.6 -7.1,39 -7.4,37.2 -9,37 -9.5,38.7'],
['Belgium','2.5,51.1 4.1,51.3 6,50.9 6.2,49.5 4.3,50'],
['Netherlands','3.6,51.4 4.7,53 7,53.4 7,52.2 6,50.9 4.1,51.3'],
['Germany','6,50.9 7,52.2 7,53.4 8.8,54 8.5,54.9 10,54.8 11,54 14.2,53.9 14.6,52 15,51 12.1,50.3 13.7,48.7 13,47.5 9.6,47.5 7.5,47.6 8.2,49 6.2,49.5'],
['Denmark','8.5,54.9 8.1,56.7 10.5,57.7 10.5,56.3 10,54.8','11,55.7 12.5,56 12,54.9'],
['Norway','4.9,59 5,61.9 10,64 14,67.5 19,69.8 25,71 31,70.2 28.2,69 25.9,69.6 20.6,69.1 15.5,66.3 14,64.5 12,63 12.2,60.5 11.1,59 8.5,58 5.7,58.8','14,79.5 21,80 27,80 20,78.5 17,76.6 14,78'],
['Sweden','11.1,59 12.2,60.5 12,63 14,64.5 15.5,66.3 20.6,69.1 23.6,67.9 24,65.8 21.3,64.5 17.5,62 17,60.6 19,59.8 16.5,57 16,56.1 14.3,55.4 12.8,55.4 11.5,58'],
['Finland','20.6,69.1 25.9,69.6 28.2,69 29.2,66.9 31.5,62.9 27.8,60.5 23,59.9 21.3,60.7 21.5,63 25.3,65.1 24,65.8 23.6,67.9'],
['Estonia','23.4,59.2 28,59.5 27.4,57.6 25,57.9 24.4,58.4'],
['Latvia','21,56.8 22,57.6 24.1,57.1 24.4,58.4 25,57.9 27.4,57.6 28.2,56.1 26.5,55.7 25,56.3 21,56.1'],
['Lithuania','21,56.1 25,56.3 26.5,55.7 26.6,55.2 25.8,54.3 23.5,54 22.7,54.4 22.7,55 21.3,55.2'],
['Belarus','23.5,54 25.8,54.3 26.6,55.2 26.5,55.7 28.2,56.1 30.9,55.1 30.9,54 32.7,53.4 31.5,53 31.8,52.1 30,51.4 27,51.7 23.5,51.6 23.6,52.7'],
['Poland','14.2,53.9 18.6,54.7 19.7,54.4 22.7,54.4 23.5,54 23.6,52.7 23.5,51.6 24,50.7 22.7,49.1 19,49.4 15,51 14.6,52'],
['Ukraine','24,50.7 23.5,51.6 27,51.7 30,51.4 31.8,52.1 34,52.3 34.4,51.3 38,49.9 40,49.6 39.7,47.8 38.2,47.1 35,46.2 36.5,45.3 33.5,44.5 33,45.8 30.7,46.6 29.6,45.3 28.2,45.5 30,46.4 29.1,47.9 27,48.4 24.9,47.7 22.7,48.2 22.7,49.1'],
['Moldova','27,48.4 29.1,47.9 30,46.4 28.2,45.5 28,47'],
['Romania','22.7,48.2 24.9,47.7 27,48.4 28,47 28.2,45.5 29.6,45.3 28.6,43.7 27,44.1 22.7,43.9 22.5,44.4 21,44.8 20.3,46.1'],
['Bulgaria','22.7,43.9 27,44.1 28.6,43.7 27.7,42.5 28,42 26.3,41.8 24,41.4 22.9,41.3 22.4,42.3'],
['Hungary','16.1,46.9 17,48 19,48.1 22.1,48.4 22.7,48.2 20.3,46.1 18.8,45.9 16.5,46.5'],
['Slovakia','17,48 17,48.7 19,49.4 22.7,49.1 22.1,48.4 19,48.1'],
['Czechia','12.1,50.3 15,51 19,49.4 17,48.7 17,48 15,49 13.7,48.7'],
['Austria','9.6,47.5 13,47.5 13.7,48.7 15,49 17,48 16.1,46.9 13.7,46.5 10.4,46.9'],
['Switzerland','6.2,46.3 7,45.8 9,45.8 10.4,46.9 9.6,47.5 7.5,47.6'],
['Italy','7,45.8 7.5,43.8 8.9,44.4 10.3,43 12.2,41.8 15.7,40 16,38 16.6,38.8 17,39.9 16.6,40.5 18.4,40.1 16,41.5 13.9,42.6 12.3,44.3 13.7,45.7 13.7,46.5 10.4,46.9 9,45.8','12.5,38 15.6,38.2 15,36.7','8.4,40.9 9.7,41 9.5,39.2 8.5,39'],
['Slovenia','13.7,45.7 13.7,46.5 16.1,46.9 16.5,46.5 15.5,45.7'],
['Croatia','13.6,45.3 13.7,45.7 15.5,45.7 16.5,46.5 18.8,45.9 19,45 15.9,45 15.8,44.7 17.6,43.1 18.5,42.4 16,43.5 14.8,45.1'],
['Bosnia','15.8,44.7 15.9,45 19,45 19.3,43.5 18.5,42.6 17.6,43.1'],
['Serbia','19,45 18.8,45.9 20.3,46.1 21,44.8 22.5,44.4 22.7,43.9 22.4,42.3 21.5,42.2 20.5,42.2 20.3,42.8 19.3,43.5'],
['Montenegro','18.5,42.6 19.3,43.5 20.3,42.8 19.4,41.9 18.5,42.4'],
['Albania','19.4,41.9 20.5,42.2 20.6,41 21,40.3 20.1,39.7 19.4,40.4'],
['North Macedonia','20.5,42.2 21.5,42.2 22.4,42.3 22.9,41.3 20.9,40.9'],
['Greece','20.1,39.7 21,40.3 20.9,40.9 22.9,41.3 24,41.4 26.3,41.8 26.2,40.9 23,40.3 22.8,39.3 24,38 23,37.5 23.1,36.5 21.7,36.9 21.1,38.3','23.6,35.6 26.3,35.3 24.7,34.95'],
['Turkey','26.3,41.8 28,42 29.2,41.2 31.3,41.2 33.5,42 36,41.3 38.4,41 41.6,41.5 43.6,41.1 44.8,39.7 44.4,37.2 42.8,37.4 39.5,36.7 36.7,36.6 36,36 34.6,36.8 32.5,36.1 30.6,36.6 29,36.7 27.2,37 26.3,38.2 26.2,39.5 26.7,40.4 29,40.4 29,41 27.5,41 26.2,40.9'],
['Cyprus','32.3,35 33.5,35.4 34.6,35.7 33.9,35 33,34.6'],
['Georgia','40,43.4 43.7,42.8 46.6,41.8 45.2,41.4 43.6,41.1 41.6,41.5'],
['Armenia','43.6,41.1 45.2,41.4 45,40 46.5,38.9 46,38.9 44.8,39.7'],
['Azerbaijan','45.2,41.4 46.6,41.8 47.8,41.2 49.6,40.4 49,39 48.9,38.4 48,39.6 46.5,38.9 45,40'],
['Russia',
 '27.8,60.5 31.5,62.9 29.2,66.9 28.2,69 31,70.2 33,69.4 41,67 38,66 33,66.7 35,64.4 37,63.9 38,64.8 40.5,64.6 40,65.5 44,66.1 44,68.4 46,68 46,66.9 53,68.8 60.5,69.8 67,68.9 68.5,71 72.8,73 73,71 72,68 74,67.5 74.9,69 73.5,71.8 75,72.8 80.5,72.5 80.6,73.6 87,75.1 98,76.4 104,77.7 106.9,77 113,75.5 109,74 113,73.5 118,73.5 127,73 129,71 133,71.5 140,72.5 150,71.5 160,69.7 170,69 170.5,70 178,69.4 180,68.9 180,65 178,64.5 177.5,62.2 170,59.9 163.5,59.8 163,58 162.8,56 160,53 156.8,51 155.5,55 156,57.5 163,61.6 160,61.8 156,61 154,59.5 149,59.6 142,59 135,54.7 141.3,53 140,48.5 135,43.5 132,43.3 130.7,42.3 131,45 134.8,48.4 130.8,48.9 127.5,50 126,53 120.5,53.3 120,50 117.8,49.5 113.8,50 108,49.5 102,50.5 98,52 98,50 92,50.7 87.8,49.2 85,50 83,51 80,50.8 77,54 73,54 70,55.3 62,54 61,51 55,51 51,51.7 47,50 47,48.5 49.2,46.4 47.5,45.5 47,44.5 47.5,43 48.6,41.8 47.8,41.2 46.6,41.8 43.7,42.8 40,43.4 37.5,44.7 38.5,46 39.3,47.2 38.2,47.1 39.7,47.8 40,49.6 38,49.9 34.4,51.3 34,52.3 31.8,52.1 31.5,53 32.7,53.4 30.9,54 30.9,55.1 28.2,56.1 27.4,57.6 28,59.5 30,60',
 '21.3,55.2 22.7,55 22.7,54.4 19.7,54.4 20.5,54.9',
 '-180,68.9 -175,67.5 -170,66.2 -172.5,64.5 -175,65 -178,65.5 -180,65',
 '-180,71.5 -178,71.5 -178,71 -180,70.9',
 '142,54.3 143,53 143.5,49 142,46 142,49',
 '67.3,76.1 60.2,75.7 55,74.6 54,73 51,71.4 53,70.8 56.6,70.2 55,71 56.3,73 60,75 67,75.6',
 '94,79.5 100,79.8 104,79 99,78','91,81 96,81.2 97,80.2 92,80.3',
 '137,75.7 145,75.7 150,75 140,74.7','140,74 143,73.8 141,73.3',
 '47,80.7 60,81 65,80.5 55,80'],
['Syria','36,36 36.7,36.6 39.5,36.7 42.8,37.4 41.2,36.3 41,34.4 38.8,33.4 36.8,32.3 35.8,33.3 36.5,34.6 36,34.6'],
['Lebanon','35.1,33.1 35.8,33.3 36.5,34.6 36,34.6'],
['Israel','34.3,31.2 34.9,29.5 35.4,31 35.5,32.4 35.5,33 35.1,33.1'],
['Jordan','34.9,29.5 36,29.2 37.5,30 38,30.5 37,31.5 39,32 38.8,33.4 36.8,32.3 35.5,32.4 35.4,31'],
['Iraq','38.8,33.4 41,34.4 41.2,36.3 42.8,37.4 44.4,37.2 45.5,35.8 46,33 47.9,31 48.5,29.9 47.7,30.1 46.5,29.1 44.7,29.2 39,32'],
['Iran','44.8,39.7 46,38.9 46.5,38.9 48,39.6 48.9,38.4 49.5,37.5 51,36.8 54,36.9 56,38.1 57.3,38 60.5,36.7 61.2,35.6 60.8,34.4 60.6,33.5 60.9,31.5 61.7,31.4 60.9,29.8 61.8,28.7 63.3,27.2 61.6,25.2 57.4,25.7 56.5,27.1 54.5,26.6 51.5,27.9 50,30.2 48.5,29.9 47.9,31 46,33 45.5,35.8 44.4,37.2'],
['Saudi Arabia','34.9,29.5 36,29.2 37.5,30 38,30.5 37,31.5 39,32 44.7,29.2 46.5,29.1 48.4,28.5 50,26.8 50.8,24.8 52,23 55,22.7 55.7,22 55,20 52,19 49,18.6 46,17.5 43.4,17.5 42.8,16.4 41,19 39,21.5 37,25 35,28'],
['Kuwait','47.7,30.1 48.5,29.9 48.4,28.5 46.5,29.1'],
['Qatar','50.8,24.8 51.2,26.1 51.6,25 51.2,24.6'],
['UAE','51.6,24.2 54,24.2 56.3,26.1 56.4,24.9 55.7,22 55,22.7 52,23'],
['Oman','55,20 55.7,22 56.4,24.9 56.8,24.2 58.7,23.6 59.8,22.5 58.5,20.4 57.7,19 55.3,17.6 53,16.6 52,19'],
['Yemen','42.8,16.4 43.4,17.5 46,17.5 49,18.6 52,19 53,16.6 48.7,14 45,12.8 43.4,12.7 43.2,13.3'],
['Kazakhstan','47,50 51,51.7 55,51 61,51 62,54 70,55.3 73,54 77,54 80,50.8 83,51 85,50 87.8,49.2 85.5,47 83,47.2 80,45 80.3,42.2 76,43 71,42.8 70,42.2 67.9,41.1 66.5,41.9 66,43 61,44.4 58.5,45.6 56,45 56,41.3 54.7,42 52.5,41.7 52.7,42.8 51,44.5 53,46.9 49.2,46.4 47,48.5'],
['Uzbekistan','56,45 58.5,45.6 61,44.4 66,43 66.5,41.9 67.9,41.1 70,42.2 71,41.5 73,40.8 71,40.2 70,39.5 68.5,39.5 68,38 67.8,37.2 65.7,37.6 62.5,39.4 60,41.2 57.5,41.3 56,41.3'],
['Turkmenistan','52.5,41.7 54.7,42 56,41.3 57.5,41.3 60,41.2 62.5,39.4 65.7,37.6 64.5,36.3 62.5,35.3 61.2,35.6 60.5,36.7 57.3,38 56,38.1 54,36.9 53.8,39 53,40'],
['Kyrgyzstan','71,42.8 76,43 80.3,42.2 76,40.4 74,39.5 70,39.5 71,40.2 73,40.8 71,41.5 70,42.2'],
['Tajikistan','70,39.5 74,39.5 74.9,37.4 71.5,37 70,38 67.8,37.2 68,38 68.5,39.5'],
['Afghanistan','60.8,34.4 61.2,35.6 62.5,35.3 64.5,36.3 65.7,37.6 67.8,37.2 70,38 71.5,37 74.9,37.4 71.5,36.2 71.8,35 70,33.8 69.3,31.9 67.7,31.3 66.3,29.9 63.5,29.6 60.9,29.8 61.7,31.4 60.9,31.5 60.6,33.5'],
['Pakistan','60.9,29.8 63.5,29.6 66.3,29.9 67.7,31.3 69.3,31.9 70,33.8 71.8,35 71.5,36.2 74.9,37.4 77.8,35.5 74.5,34.7 74.5,31.5 71,28 70,26 71,24.3 68.8,24.3 67,24.7 61.6,25.2 63.3,27.2 61.8,28.7'],
['India','77.8,35.5 74.5,34.7 74.5,31.5 71,28 70,26 71,24.3 68.8,24.3 68.2,23.7 69,22.3 70.5,20.8 72.5,21 72.8,19 74,15 76.3,10 77.5,8 78.5,9.3 80.3,13 80.3,15.9 83,17.2 86.7,20 87,21.5 89,21.8 88.5,24.2 88.2,25.8 89.5,26 92,25.1 91.3,24 92.4,22.8 93.3,23 94.2,25 95.1,26.6 97.3,28.3 95,29 92,27.8 92,26.8 89.7,26.7 88.8,27.3 88,26.4 84,27.4 80,28.8 81,30.2 78.7,31.5 79,33.5'],
['Nepal','80,28.8 84,27.4 88,26.4 88,27.9 84,29 81,30.2'],
['Bhutan','88.8,27.3 89.7,26.7 92,26.8 92,27.8 90,28.2'],
['Bangladesh','88.2,25.8 88.5,24.2 89,21.8 90.5,22.5 91.8,22.3 92.4,20.7 92.4,22.8 91.3,24 92,25.1 89.5,26'],
['China','74,39.5 74.9,37.4 77.8,35.5 79,33.5 78.7,31.5 81,30.2 84,29 88,27.9 88.8,27.3 90,28.2 92,27.8 95,29 97.3,28.3 98.7,25.8 97.5,24 99,22 100.2,21.5 101.2,21.4 102.2,22.4 105.3,23.3 108,21.6 110,21.4 113,22 116.5,23 120,26.6 122,30 121,32.5 119.5,35 122.5,37 119,37.3 118,39 121,40.8 121.5,39 124.3,39.9 128,41.5 130.7,42.3 131,45 134.8,48.4 130.8,48.9 127.5,50 126,53 120.5,53.3 120,50 117.8,49.5 115.5,48 119.5,47 112,43.7 105,41.6 97,42.7 91,45.2 90.5,47.7 87.8,49.2 85.5,47 83,47.2 80,45 80.3,42.2 76,40.4','108.6,19.3 110.3,20 111,19.6 109.5,18.2'],
['Taiwan','121,25 122,25 120.9,22 120.1,23.2'],
['Mongolia','87.8,49.2 92,50.7 98,50 98,52 102,50.5 108,49.5 113.8,50 117.8,49.5 115.5,48 119.5,47 112,43.7 105,41.6 97,42.7 91,45.2 90.5,47.7'],
['North Korea','124.3,39.9 125.3,37.7 127,38.2 128.3,38.6 127.5,39.8 129.7,41.5 130.7,42.3 128,41.5'],
['South Korea','125.3,37.7 126.2,34.5 127,34.6 129.3,35.2 129.4,37 128.3,38.6 127,38.2'],
['Japan','140.3,41.1 141.4,41.3 141.9,39.7 140.9,38 140.7,36 140,35.1 138.5,34.8 136.8,34.4 135.2,33.7 135.2,34.6 132.5,34.1 131,34.2 132.7,35.5 135.7,35.6 136.8,37 138.8,37.8 140,39.3','130,33.5 131.9,33.5 131,31 130.2,31.3','132.5,34 134.5,34 133,33','141.7,45.4 145.5,43.5 143,42 140.5,42.5'],
['Myanmar','92.4,20.7 94.3,18.2 94.5,16 96,16.5 97.6,16.5 98.6,12 98.9,10 99.2,12 98.2,15 97.8,18 100,20.3 100.2,21.5 99,22 97.5,24 98.7,25.8 97.3,28.3 95.1,26.6 94.2,25 93.3,23 92.4,22.8'],
['Thailand','97.8,18 98.2,15 99.2,12 98.9,10 98.3,8 100.1,6.5 101,6.2 102,6 101,6.8 100,9 99.3,11 100,13.4 101,12.7 102.6,12.1 102.4,13.6 103,14.3 105.5,14.4 105.5,16 104,18 102.5,17.9 101,17.5 101,19.5 100.2,20.4'],
['Laos','100.2,20.4 101,19.5 101,17.5 102.5,17.9 104,18 105.5,16 105.5,14.4 107.5,14.8 107.4,16 105,18.7 104,20 102.2,22.4 101.2,21.4'],
['Vietnam','102.2,22.4 105.3,23.3 108,21.6 105.8,19 107,16.8 109.2,13.5 109,11.3 105,8.6 104.8,10.4 105.9,11 107.5,12.3 107.5,14.8 107.4,16 105,18.7 104,20'],
['Cambodia','102.6,12.1 103.6,10.6 104.8,10.4 105.9,11 107.5,12.3 107.5,14.8 105.5,14.4 103,14.3 102.4,13.6'],
['Malaysia','100.1,6.5 101,6.2 102,6 103.5,4 104.2,1.4 103,1.6 101,3.2','109.7,2 111.4,2.5 113.8,4.5 116.7,7 119.2,5.4 117.5,4.2 115.8,4.2 114.6,1.5 111.2,1.4'],
['Indonesia','95.3,5.6 98,4 104,-2 106,-3 105.8,-5.8 102,-4 100,-1 97.6,1.7',
 '105.2,-6.8 106.5,-6 110.5,-6.8 114.5,-7.8 113,-8.5 106.5,-7.4',
 '116,-8.9 117.5,-8.4 119,-8.8','119.8,-8.4 123,-8.3 121,-8.9','119.5,-9.6 120.8,-9.9 120,-10.1','123.5,-10.3 125,-9.2 124.2,-9.3',
 '108.9,1.6 109.7,2 111.2,1.4 114.6,1.5 115.8,4.2 117.5,4.2 118,2.3 119,1 117.5,0.5 117.5,-0.8 116,-3.9 114.5,-4 110.2,-2.9 109,-0.5',
 '120,1.3 125,1.6 121,0.8 120.1,-0.5 121.5,-1 123.3,-0.9 121.5,-2 122.5,-4.5 121.5,-4.7 120.9,-2.7 120.4,-5.6 119.5,-5.4 119.5,-3.5 118.8,-2.5 119.8,0.2',
 '127.5,2 128.7,1.2 128,-0.7 127.7,0.8','128,-3.2 130.5,-3.3 129,-3.5','126,-3.2 127,-3.5 126.2,-3.7',
 '131,-0.8 134,-0.8 135,-3.3 137.5,-1.6 141,-2.6 141,-9.1 139,-8 138,-5.3 135,-4.4 133,-4 132.8,-2.8 134,-2.5 132,-2.8','134.5,-5.5 134.8,-6.5 134.3,-6.8'],
['Timor-Leste','125,-9.2 127.3,-8.4 125,-8.9'],
['Philippines','120.6,18.5 122.2,18.5 121.7,15.9 124,13 120.8,13.8 120,16','121,13.4 121.5,12.3 120.4,12.9','117.2,8.4 119.5,11.3 119,10','124.3,12.5 125.8,11 125,10.2','122,11.8 123.2,11 123,9.1 122,10','122,7.2 123.5,8.7 125.5,9.8 126.5,7.8 125.4,5.6 124,7'],
['Sri Lanka','79.9,9.5 81.8,7.5 81,6 80,6.2'],
['Papua New Guinea','141,-2.6 144.6,-3.9 147.8,-6 147,-6.7 150.8,-10.3 147.5,-10 146,-8 143.3,-8.2 143,-9.2 141,-9.1','148.3,-5.6 152,-4.2 152,-5.5 150,-6.3','150.8,-2.7 153,-4.7 152.5,-3.8','154.7,-5.4 155.9,-6.6 155,-6.5'],
['Solomon Islands','157,-7 159,-8.2 157.5,-7.9','159.8,-9.3 161,-9.8 160,-9.9','160.8,-8.5 161.3,-9.5 161,-8.4'],
['Vanuatu','167,-15 167.2,-16 166.6,-15.9'],
['New Caledonia','164,-20.2 167,-22.3 165.5,-21.8'],
['Fiji','177.3,-17.5 178.6,-18 177.4,-18.2','178.7,-16.7 180,-16.2 179,-17'],
['Australia','114.2,-22 113.4,-24 114,-26.3 115,-30 115.7,-32 115,-34.3 118,-35.1 120,-34 123.6,-33.9 125.9,-32.5 129,-31.7 131.3,-31.5 133,-32 134.3,-33 135.5,-34.7 137.7,-33 137.5,-35.1 139.6,-36.2 141.5,-38.4 143.6,-38.8 146.3,-39 148,-37.9 150,-37.4 150.7,-35.2 151.6,-33 153,-31 153.5,-28.2 153.1,-26 150.8,-23.5 149,-21 146.5,-19 145.3,-15 143.5,-14.2 142.5,-10.7 141.7,-13 141,-16.8 139.5,-17.5 137,-15.9 135.5,-14.9 136,-13.3 136.9,-12.3 135,-12 132.6,-11.5 131,-12.2 129.7,-14.9 128.3,-14.9 127,-13.9 125,-15.6 123.5,-17.3 122.2,-18.2 120.8,-19.7 117,-20.7','144.7,-40.7 148.3,-40.9 147.9,-43 146,-43.6'],
['New Zealand','172.7,-34.5 174.3,-35.5 175.3,-36.7 176,-37.6 178.5,-37.7 177.5,-39.2 176.5,-40.6 175.2,-41.6 174.7,-40.5 175,-39.7 173.9,-39.3 174.7,-38 174.6,-36.9 173,-35','172.7,-40.5 174.3,-41.2 173.5,-42.6 172.8,-43.7 171.4,-44.2 170.9,-45.8 169.3,-46.6 166.6,-46.1 167.7,-45 169,-44 171,-42.8 172,-41'],
['Kerguelen','68.6,-48.8 70.5,-49 70,-49.7 69,-49.6']
];

// Tiny island specks drawn as dots
const islets = [[-25,17],[-24.3,16.6],[-23,16.8],[-23.6,15],[-24.7,14.9],[-23.2,15.2],[-61.8,17.1],[-61.3,15.4],[-61,14.6],[-61,13.2],[-59.6,13.2],[-61.7,12.1],[-63,18.2],[6.7,0.3],[43.4,-11.7],[43.7,-12.3],[44.4,-12.2],[45.2,-12.8],[55.5,-4.6],[57.6,-20.3],[55.5,-21.1],[73.5,4.2],[73.5,3],[72.4,-7.3],[144.8,13.4],[145.7,15.2],[158.2,6.9],[171,7.1],[134.5,7.4],[173,1.4],[178.5,-7.5],[179.2,-8.5],[178.7,-6.3],[177,-12.5]];
const lakes = ['58.5,46.5 61,46.5 61,44.8 58.5,44.6'];

const width = 3400, height = 2700;
const mapRadius = 633.6, mapCenterX = 1450, mapCenterY = 1275;

const parseRing = s => {
  const ring = s.split(' ').map(p => p.split(',').map(Number));
  ring.push(ring[0]);
  return ring;
};

// Robinson, written out because d3 core doesn't ship it
const lengthAt = d3.scaleLinear().domain(latSteps).range(lengthCol);
const depthAt = d3.scaleLinear().domain(latSteps).range(depthCol);
const robinson = (lon, lat) => [
  mapCenterX + 0.8487 * mapRadius * (lon * Math.PI / 180) * lengthAt(Math.abs(lat)),
  mapCenterY - Math.sign(lat) * 1.3523 * mapRadius * depthAt(Math.abs(lat))
];
const mapPath = d3.geoPath(d3.geoTransform({
  point(lon, lat) {
    const p = robinson(lon, lat);
    this.stream.point(p[0], p[1]);
  }
})).pointRadius(1.8);

const features = outlines.map(([name, ...rings]) => ({
  type: 'Feature',
  properties: { name, gap: gapYears[countries.indexOf(name)] },
  geometry: { type: 'MultiPolygon', coordinates: rings.map(r => [parseRing(r)]) }
}));

const color = d3.scaleThreshold().domain(legendTicks).range(legendColors);

const svg = d3.select('#chart').append('svg')
  .attr('width', width).attr('height', height)
  .style('display', 'block');

const defs = svg.append('defs');
const hatch = defs.append('pattern').attr('id', 'nodata')
  .attr('patternUnits', 'userSpaceOnUse').attr('width', 24).attr('height', 24)
  .attr('patternTransform', 'rotate(-70)');
hatch.append('rect').attr('width', 24).attr('height', 24).attr('fill', '#fff');
hatch.append('line').attr('x1', 0).attr('x2', 24).attr('y1', 12).attr('y2', 12)
  .attr('stroke', '#d0d0d0').attr('stroke-width', 2.5);

// Header
svg.append('text').attr('x', 64).attr('y', 155)
  .style('font-family', '"Liberation Serif", serif').style('font-size', '104px')
  .attr('fill', '#5b5b5b').attr('stroke', '#5b5b5b').attr('stroke-width', 1.6)
  .attr('textLength', 2334).attr('lengthAdjust', 'spacingAndGlyphs')
  .text('The sex gap in life expectancy varies around the world');

const subtitle = ['The sex gap in period life expectancy¹ at birth (females minus males). Positive values indicate higher life expectancy',
  'among females; negative values indicate higher life expectancy among males.'];
svg.append('g').selectAll('text').data(subtitle).join('text')
  .attr('x', 64).attr('y', (d, i) => 253 + i * 72)
  .style('font-size', '56px').attr('fill', '#5b5b5b').text(d => d);

// Logo
const logo = svg.append('g');
logo.append('rect').attr('x', 3077).attr('y', 64).attr('width', 258).attr('height', 145).attr('fill', '#002147');
logo.append('rect').attr('x', 3077).attr('y', 198).attr('width', 258).attr('height', 11).attr('fill', '#ce261e');
const logoText = logo.append('text').attr('text-anchor', 'middle')
  .style('font-size', '47px').style('font-weight', 700).attr('fill', '#fff');
logoText.selectAll('tspan').data(['Our World', 'in Data']).join('tspan')
  .attr('x', 3206).attr('y', (d, i) => 124 + i * 48).text(d => d);

// Map
const map = svg.append('g');
map.selectAll('path.country').data(features).join('path')
  .attr('class', 'country')
  .attr('d', mapPath)
  .attr('fill', d => d.properties.gap === null ? 'url(#nodata)' : color(d.properties.gap))
  .attr('stroke', '#3c3c3c').attr('stroke-width', 1.4).attr('stroke-linejoin', 'round');
map.selectAll('path.lake').data(lakes).join('path')
  .attr('class', 'lake')
  .attr('d', d => mapPath({ type: 'Polygon', coordinates: [parseRing(d)] }))
  .attr('fill', '#fff').attr('stroke', '#3c3c3c').attr('stroke-width', 1.4);
map.append('path').attr('d', mapPath({ type: 'MultiPoint', coordinates: islets })).attr('fill', '#333');

// Legend
const legendY = 2083, legendH = 40, arrow = 20;
const legendX = d3.scaleLinear().domain([0, 10]).range([1249, 2420]);
const legendLeft = legendX(legendBins[0]), legendRight = legendX(legendBins[7]);
const legend = svg.append('g');
legend.selectAll('rect.bin').data(d3.pairs(legendBins)).join('rect')
  .attr('class', 'bin')
  .attr('x', d => legendX(d[0])).attr('y', legendY)
  .attr('width', d => legendX(d[1]) - legendX(d[0])).attr('height', legendH)
  .attr('fill', d => color(d[0]));
legend.append('path')
  .attr('d', `M${legendLeft + 0.5},${legendY} L${legendLeft - arrow},${legendY + legendH / 2} L${legendLeft + 0.5},${legendY + legendH} Z`)
  .attr('fill', legendColors[0]);
legend.append('path')
  .attr('d', `M${legendRight - 0.5},${legendY} L${legendRight + arrow},${legendY + legendH / 2} L${legendRight - 0.5},${legendY + legendH} Z`)
  .attr('fill', legendColors[6]);
legend.append('path')
  .attr('d', `M${legendLeft},${legendY} L${legendLeft - arrow},${legendY + legendH / 2} L${legendLeft},${legendY + legendH} L${legendRight},${legendY + legendH} L${legendRight + arrow},${legendY + legendH / 2} L${legendRight},${legendY} Z`)
  .attr('fill', 'none').attr('stroke', '#5f5f5f').attr('stroke-width', 1.6);

const legendAxis = d3.axisTop(legendX).tickValues(legendTicks)
  .tickFormat(d => `${d} years`).tickSize(12).tickPadding(15);
const legendAxisDraw = legend.append('g').attr('transform', `translate(0,${legendY})`).call(legendAxis);
legendAxisDraw.select('.domain').remove();
legendAxisDraw.selectAll('line').attr('stroke', '#444').attr('stroke-width', 1.4).attr('y1', 40).attr('y2', -12);
legendAxisDraw.selectAll('text').attr('dx', -4).style('font-size', '54px').style('font-family', 'Lato, sans-serif').attr('fill', '#111');

legend.append('rect').attr('x', 745).attr('y', legendY).attr('width', 190).attr('height', legendH)
  .attr('fill', 'url(#nodata)').attr('stroke', '#8a8a8a').attr('stroke-width', 1.6);
legend.append('line').attr('x1', 840).attr('x2', 840).attr('y1', legendY - 12).attr('y2', legendY).attr('stroke', '#444').attr('stroke-width', 1.4);
legend.append('text').attr('x', 840).attr('y', 2056).attr('text-anchor', 'middle')
  .style('font-size', '54px').attr('fill', '#111').text('No data');

// Footer
const source = svg.append('text').attr('x', 64).attr('y', 2253).style('font-size', '52px').attr('fill', '#5b5b5b');
source.append('tspan').style('font-weight', 700).text('Data source:');
source.append('tspan').text(' Human Mortality Database (2023); United Nations - World Population Prospects (2022)');
const link = svg.append('text').attr('x', 64).attr('y', 2323).style('font-size', '52px').attr('fill', '#5b5b5b');
link.append('tspan').style('text-decoration', 'underline').text('OurWorldInData.org/life-expectancy');
link.append('tspan').text(' | ');
link.append('tspan').style('text-decoration', 'underline').text('CC BY');

svg.append('rect').attr('x', 64).attr('y', 2399).attr('width', 3271).attr('height', 3).attr('fill', '#e7e7e7');

const noteLines = [
  [['1. Period life expectancy', 700], [': Period life expectancy is a metric that summarizes death rates across all age groups in one particular year. For a given year,', 400]],
  [['it represents the average lifespan for a hypothetical group of people, if they experienced the same age-specific death rates throughout their whole lives', 400]],
  [['as the age-specific death rates seen in that particular year. Learn more in our article: “Life expectancy” – What does this actually mean?', 400]]
];
const note = svg.append('g').selectAll('text').data(noteLines).join('text')
  .attr('x', 62).attr('y', (d, i) => 2508 + i * 57.5)
  .style('font-size', '48px').attr('fill', '#5b5b5b');
note.selectAll('tspan').data(d => d).join('tspan')
  .style('font-weight', d => d[1]).text(d => d[0]);
</script>
</body>
</html>
